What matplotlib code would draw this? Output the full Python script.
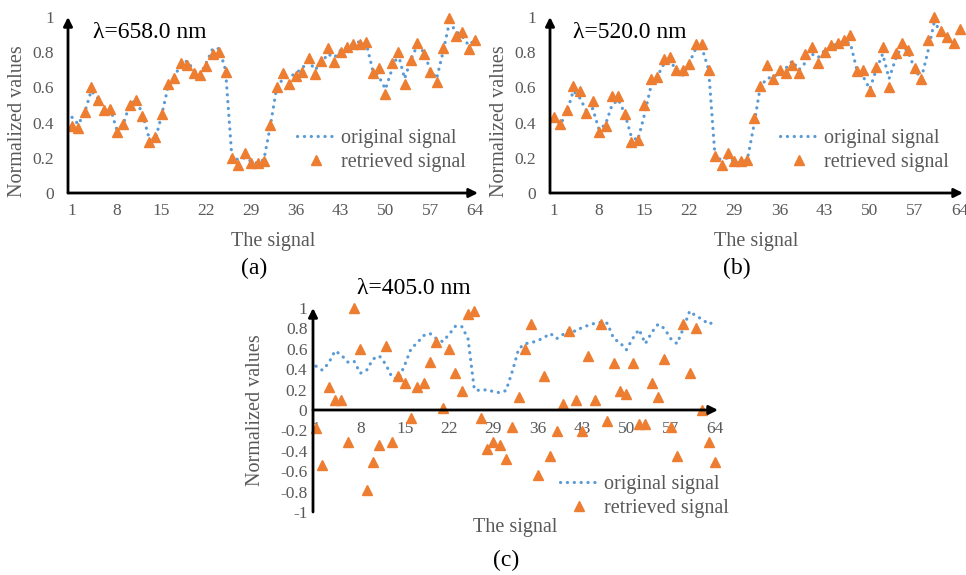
import numpy as np
import matplotlib.pyplot as plt

plt.rcParams['font.family'] = ['Liberation Serif', 'DejaVu Serif']

# signal index 1..64
idx = np.arange(1, 65)
xtick_vals = [1, 8, 15, 22, 29, 36, 43, 50, 57, 64]

original = [0.43, 0.39, 0.46, 0.58, 0.54, 0.47, 0.48, 0.36, 0.39, 0.50,
            0.53, 0.45, 0.32, 0.30, 0.44, 0.60, 0.66, 0.73, 0.75, 0.70,
            0.67, 0.74, 0.82, 0.82, 0.70, 0.20, 0.19, 0.20, 0.18, 0.17,
            0.19, 0.38, 0.60, 0.65, 0.66, 0.68, 0.71, 0.75, 0.70, 0.74,
            0.79, 0.77, 0.81, 0.83, 0.85, 0.86, 0.85, 0.70, 0.66, 0.59,
            0.70, 0.79, 0.65, 0.76, 0.84, 0.80, 0.70, 0.65, 0.80, 0.97,
            0.92, 0.89, 0.84, 0.87]

retrieved_658 = [0.38, 0.37, 0.46, 0.60, 0.53, 0.47, 0.48, 0.345, 0.39, 0.50,
                 0.53, 0.44, 0.29, 0.32, 0.45, 0.62, 0.655, 0.74, 0.73, 0.68,
                 0.67, 0.72, 0.79, 0.80, 0.69, 0.20, 0.16, 0.23, 0.17, 0.17,
                 0.18, 0.385, 0.60, 0.68, 0.62, 0.665, 0.69, 0.765, 0.675, 0.75,
                 0.825, 0.745, 0.80, 0.83, 0.845, 0.845, 0.86, 0.68, 0.71, 0.56,
                 0.74, 0.80, 0.62, 0.755, 0.85, 0.79, 0.685, 0.63, 0.825, 0.995,
                 0.89, 0.915, 0.82, 0.87]

retrieved_520 = [0.43, 0.39, 0.47, 0.61, 0.58, 0.455, 0.52, 0.345, 0.38, 0.55,
                 0.55, 0.45, 0.29, 0.30, 0.50, 0.65, 0.66, 0.76, 0.77, 0.70,
                 0.70, 0.735, 0.845, 0.845, 0.70, 0.21, 0.16, 0.23, 0.18, 0.18,
                 0.185, 0.425, 0.61, 0.725, 0.65, 0.70, 0.68, 0.73, 0.68, 0.79,
                 0.83, 0.74, 0.80, 0.84, 0.855, 0.87, 0.90, 0.695, 0.70, 0.58,
                 0.715, 0.83, 0.60, 0.795, 0.855, 0.815, 0.71, 0.65, 0.87, 1.00,
                 0.92, 0.885, 0.85, 0.93]

retrieved_405 = [-0.18, -0.54, 0.23, 0.10, 0.10, -0.31, 1.00, 0.60, -0.78, -0.51,
                 -0.34, 0.63, -0.31, 0.33, 0.26, -0.075, 0.23, 0.26, 0.47, 0.67,
                 0.02, 0.60, 0.36, 0.19, 0.94, 0.97, -0.075, -0.38, -0.31, -0.34,
                 -0.48, -0.17, 0.13, 0.60, 0.84, -0.64, 0.33, -0.45, -0.21, 0.06,
                 0.77, 0.095, -0.21, 0.53, 0.095, 0.84, -0.11, 0.46, 0.19, 0.16,
                 0.46, -0.14, -0.14, 0.26, 0.13, 0.50, -0.17, -0.45, 0.84, 0.36,
                 0.80, 0.0, -0.31, -0.51]

BLUE = '#5B9BD5'
ORANGE = '#ED7D31'
GREY = '#595959'
W, H = 966, 575


def add_ax(left, top, right, bottom):
    return fig.add_axes([left / W, 1 - bottom / H, (right - left) / W, (bottom - top) / H])


def fmt(v):
    return '0' if abs(v) < 1e-9 else '%g' % v


def panel(ax, retrieved, ylo, xl, title, title_xy, tag, tag_xy, ylab_x, ylab_y,
          xlab_y, leg_xy, ypad, xpad):
    ax.plot(idx, original, color=BLUE, lw=2.3, ls=(0, (0.05, 2.1)),
            dash_capstyle='round', label='original signal')
    ax.plot(idx, retrieved, ls='none', marker='^', ms=7.5, color=ORANGE,
            mec=ORANGE, label='retrieved signal', clip_on=False)
    ax.set_xlim(xl, 64.47)
    ax.set_ylim(ylo, 1)
    for s in ax.spines.values():
        s.set_visible(False)
    ax.spines['bottom'].set_position(('data', 0))
    # arrow axes
    ax.annotate('', xy=(1, 0), xytext=(0, 0), xycoords=('axes fraction', 'data'),
                arrowprops=dict(arrowstyle='-|>', color='black', lw=2,
                                mutation_scale=13, shrinkA=0, shrinkB=0))
    ax.annotate('', xy=(0, 1), xytext=(0, 0), xycoords='axes fraction',
                arrowprops=dict(arrowstyle='-|>', color='black', lw=2,
                                mutation_scale=13, shrinkA=0, shrinkB=0))
    yt = np.round(np.arange(ylo, 1.001, 0.2), 1)
    ax.set_yticks(yt)
    ax.set_yticklabels([fmt(v) for v in yt])
    ax.set_xticks(xtick_vals)
    ax.tick_params(axis='y', length=0, pad=ypad, labelsize=12.5, labelcolor=GREY)
    ax.tick_params(axis='x', length=0, pad=xpad, labelsize=12.5, labelcolor=GREY)
    ax.text(ylab_x, ylab_y, 'Normalized values', rotation=90, ha='center',
            va='center', fontsize=14.5, color=GREY, transform=ax.transAxes)
    ax.text(0.5, xlab_y, 'The signal', ha='center', va='center', fontsize=14.5,
            color=GREY, transform=ax.transAxes)
    fig.text(title_xy[0] / W, 1 - title_xy[1] / H, title, ha='left', va='center',
             fontsize=17, color='black')
    fig.text(tag_xy[0] / W, 1 - tag_xy[1] / H, tag, ha='center', va='center',
             fontsize=17, color='black')
    ax.legend(loc='center left', bbox_to_anchor=leg_xy, frameon=False,
              fontsize=14.5, labelcolor=GREY, handlelength=1.9,
              handletextpad=0.3, labelspacing=0.25, borderpad=0,
              borderaxespad=0, numpoints=1)


fig = plt.figure(figsize=(9.66, 5.75), dpi=100)

ax_a = add_ax(68, 17, 478, 193)
panel(ax_a, retrieved_658, 0, 0.375, 'λ=658.0 nm', (93, 33), '(a)', (254, 268),
      -0.122, 0.41, -0.273, (0.559, 0.241), 10, 7)

ax_b = add_ax(550, 17, 963, 193)
panel(ax_b, retrieved_520, 0, 0.379, 'λ=520.0 nm', (573, 33), '(b)', (737, 268),
      -0.122, 0.41, -0.273, (0.557, 0.241), 10, 7)

ax_c = add_ax(313, 308, 718, 512)
panel(ax_c, retrieved_405, -1, 0.526, 'λ=405.0 nm', (357, 289), '(c)', (506, 560),
      -0.141, 0.5, -0.074, (0.61, 0.076), 4, 8)

fig.savefig('out.png', dpi=100)
